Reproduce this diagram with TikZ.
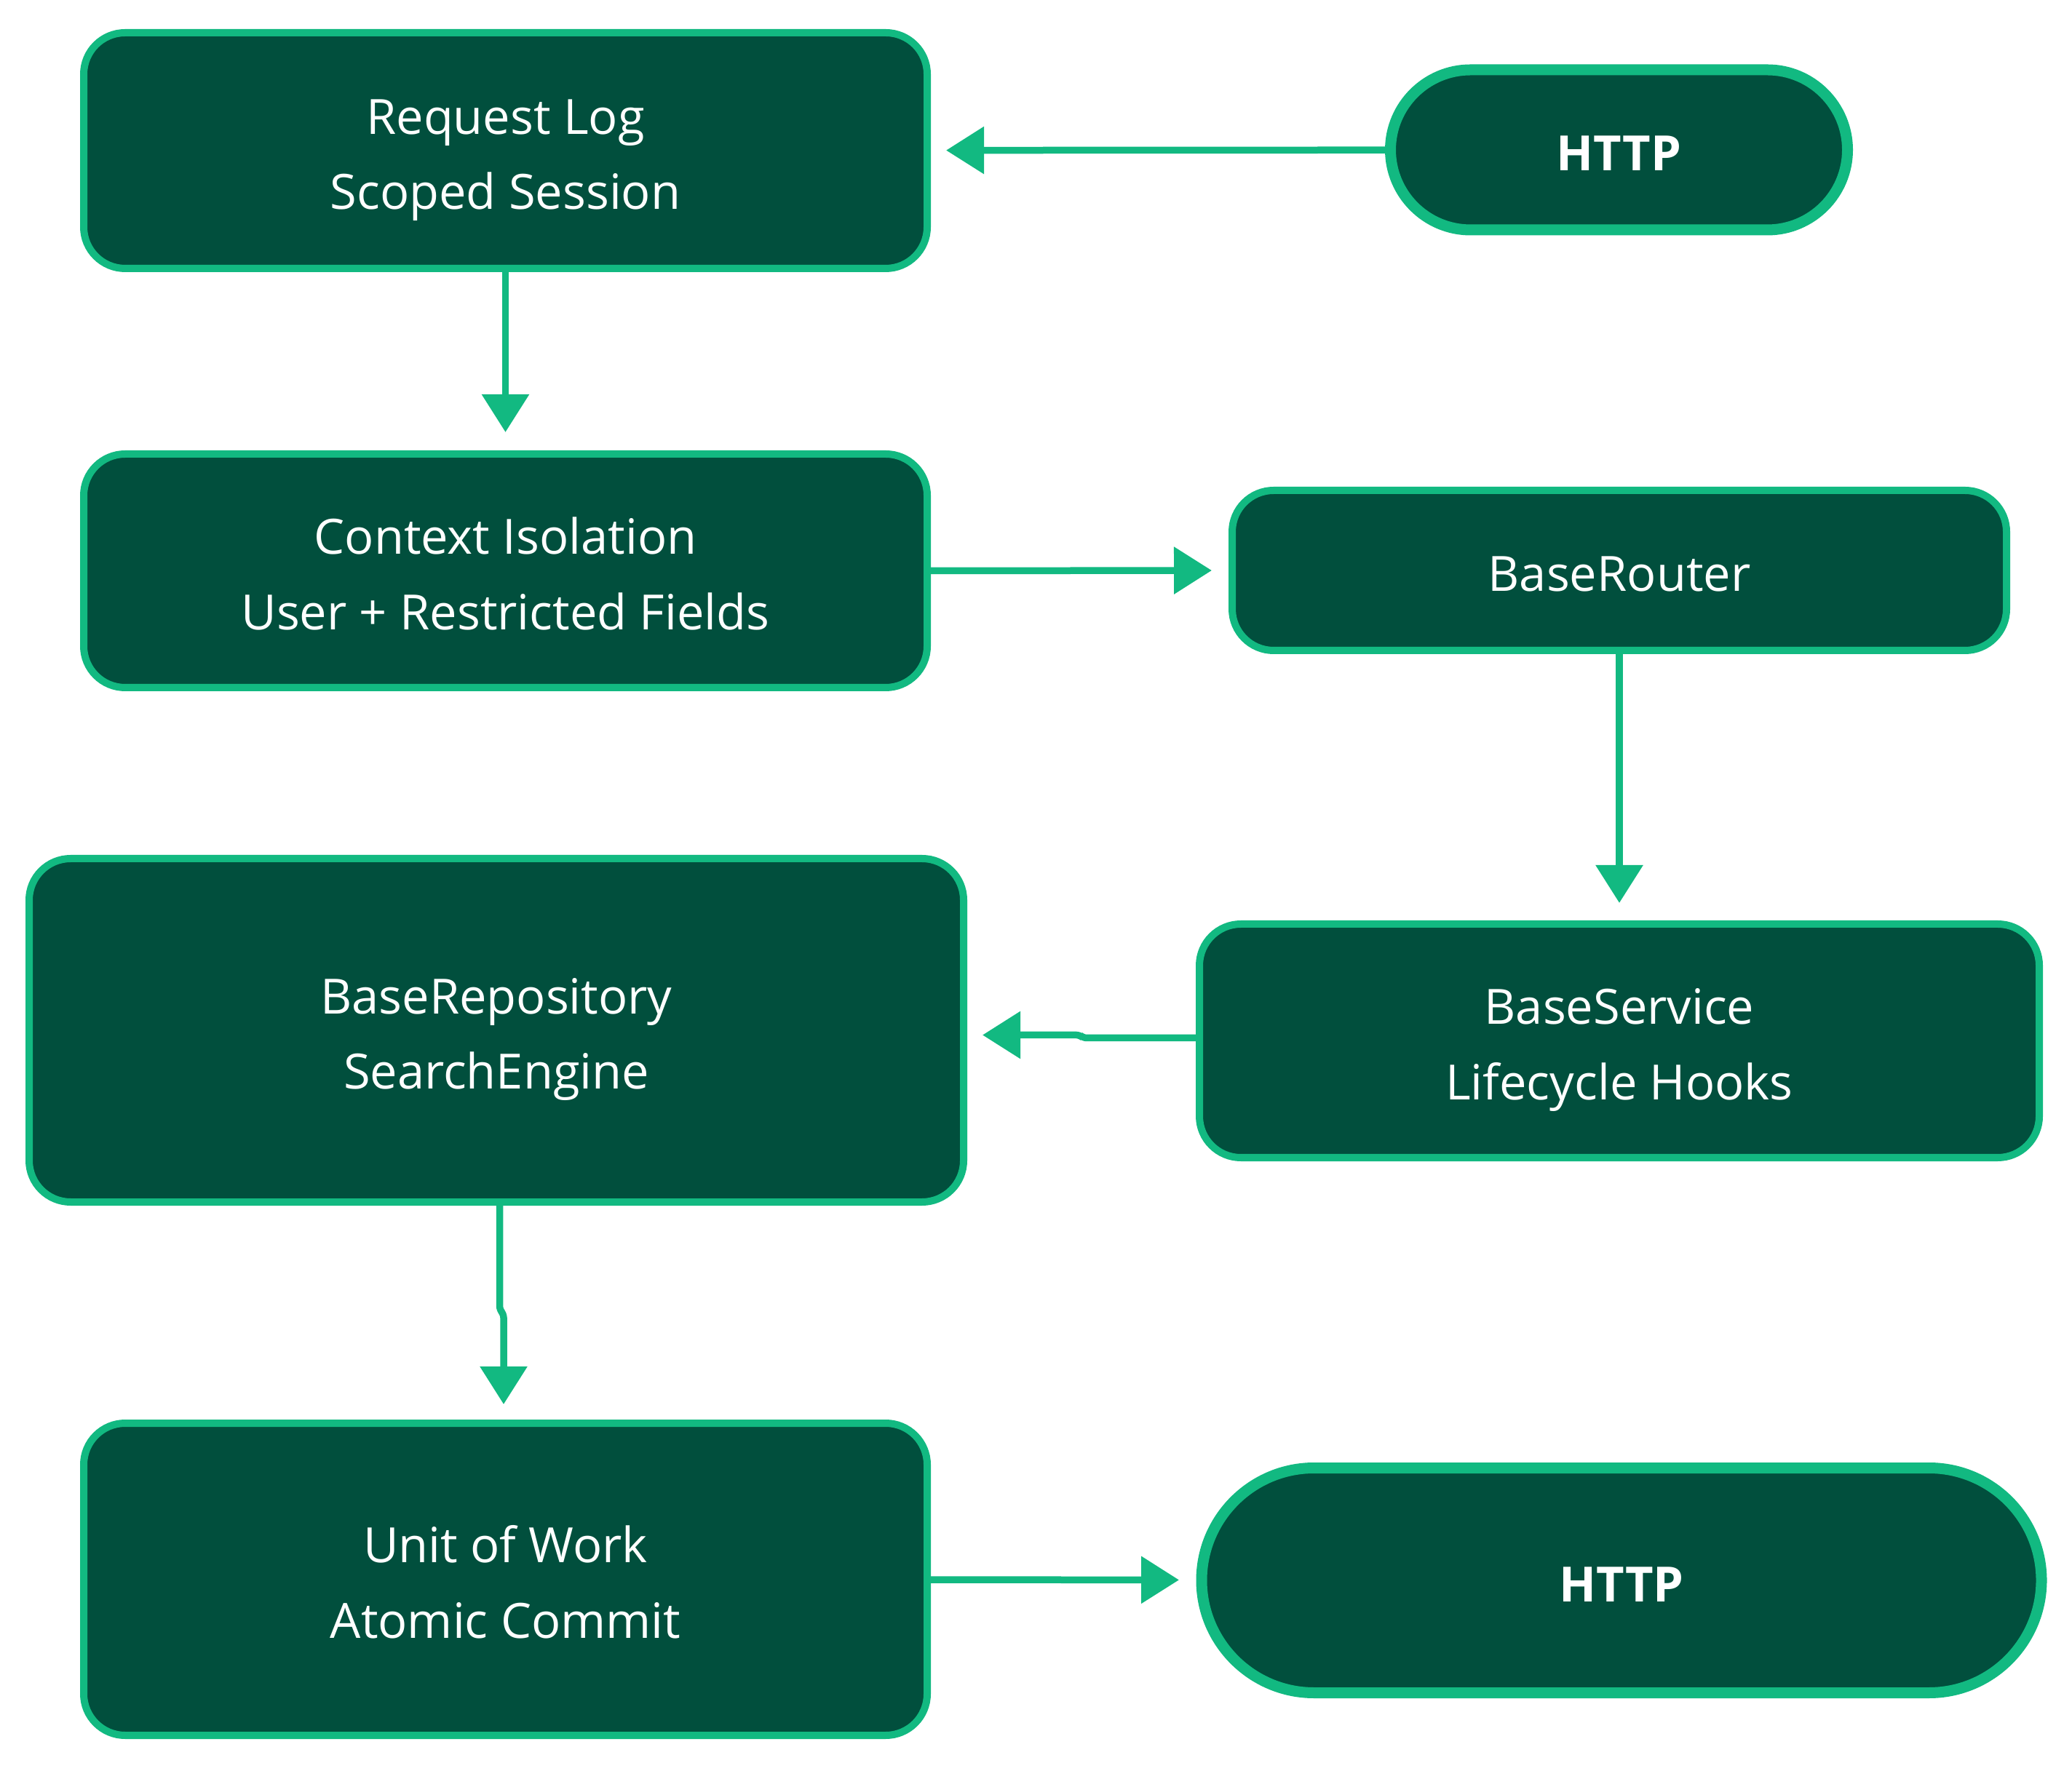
\documentclass[tikz,border=0pt]{standalone}
\usepackage{fontspec}
\setmainfont{Open Sans}
\usetikzlibrary{arrows.meta,shapes.misc}
\definecolor{FlowDark}{HTML}{014F3D}
\definecolor{FlowGreen}{HTML}{12B981}
\begin{document}
\begin{tikzpicture}[x=1cm,y=1cm,
  box/.style={draw=FlowGreen,fill=FlowDark,line width=0.1cm,rounded corners=0.57cm,text=white,align=center,inner sep=0pt,font=\fontsize{19}{29.4}\selectfont,
    execute at end node={\rule[-5pt]{0pt}{5pt}}},
  pair/.style={box,execute at begin node={\rule{0pt}{50.9pt}}},
  single/.style={box,execute at begin node={\rule{0pt}{21.5pt}}},
  term/.style={single,rounded rectangle,sharp corners,line width=0.15cm,font=\fontsize{19}{29.4}\selectfont\bfseries},
  flow/.style={draw=FlowGreen,line width=0.095cm,-{Triangle[length=0.52cm,width=0.63cm]},shorten >=0.21cm}]
\path[use as bounding box] (0,0) rectangle (28.47,24.33);
\node[pair,minimum width=11.59cm,minimum height=3.24cm] (log) at (6.945,22.26) {Request Log\\Scoped Session};
\node[term,minimum width=6.28cm,minimum height=2.20cm] (http1) at (22.245,22.27) {HTTP};
\node[pair,minimum width=11.59cm,minimum height=3.21cm] (ctx) at (6.945,16.485) {Context Isolation\\User + Restricted Fields};
\node[single,minimum width=10.64cm,minimum height=2.20cm] (router) at (22.25,16.49) {BaseRouter};
\node[pair,minimum width=12.84cm,minimum height=4.72cm] (repo) at (6.82,10.17) {BaseRepository\\SearchEngine};
\node[pair,minimum width=11.54cm,minimum height=3.21cm] (svc) at (22.25,10.025) {BaseService\\Lifecycle Hooks};
\node[pair,minimum width=11.59cm,minimum height=4.29cm] (uow) at (6.945,2.625) {Unit of Work\\Atomic Commit};
\node[term,minimum width=11.54cm,minimum height=3.09cm] (http2) at (22.28,2.61) {HTTP};
% connectors
\draw[flow] (http1) -- (log);
\draw[flow,shorten >=0.25cm] (log) -- (ctx);
\draw[flow,shorten >=0.23cm] (ctx.east) -- (router.west);
\draw[flow,shorten >=0.24cm] (router.south) -- (svc.north);
\draw[flow,rounded corners=0.05cm] ([yshift=0.04cm]svc.west) -- (14.88,10.065) -- (14.84,10.105) -- ([yshift=-0.065cm]repo.east);
\draw[flow,rounded corners=0.05cm] ([xshift=0.045cm]repo.south) -- (6.865,6.33) -- (6.92,6.27) -- ([xshift=-0.025cm]uow.north);
\draw[flow,shorten >=0.235cm] (uow) -- (http2);
\end{tikzpicture}
\end{document}
